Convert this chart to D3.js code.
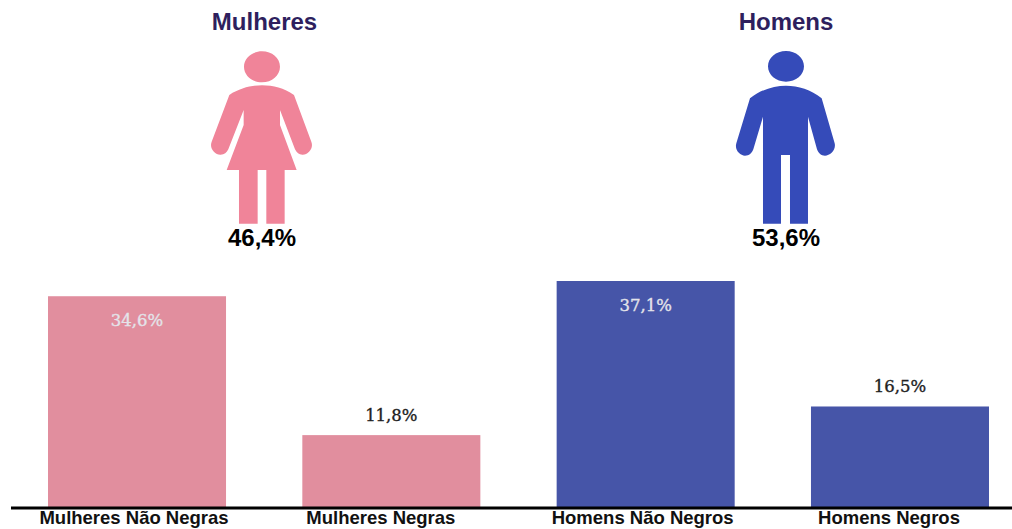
<!DOCTYPE html>
<html>
<head>
<meta charset="utf-8">
<script src="https://cdn.jsdelivr.net/npm/d3@7"></script>
<style>
	html, body { margin: 0; padding: 0; background: #fff; overflow: hidden; }
	svg { display: block; }
	text { font-family: "Liberation Sans", Arial, sans-serif; font-weight: bold; }
	.bar-label { font-family: "DejaVu Serif", serif; font-weight: normal; font-size: 16.5px; stroke-width: 0.35px; }
</style>
</head>
<body>
<div id="chart"></div>
<script>
// Bars
var categories = ["Mulheres Não Negras", "Mulheres Negras", "Homens Não Negros", "Homens Negros"];
var values = [34.6, 11.8, 37.1, 16.5];
var barColors = ["#e18e9e", "#e18e9e", "#4655a8", "#4655a8"];
// the axis labels sit a bit left of their bars in the original
var labelShift = [-3, -10.5, -3, -11];

// Pictograms on top
var groupNames = ["Mulheres", "Homens"];
var groupShares = ["46,4%", "53,6%"];
var groupColors = ["#f08499", "#354bb9"];
var groupCenters = [264.5, 786];

// Icon outlines, in a 450 wide local box (zoomed up 3x from the picture)
var womanIcon = "M216,154C246,154 270,174 270,200C270,226 246,247 216,247C186,247 162,226 162,200C162,174 186,154 216,154Z" +
	"M118,285C150,264 185,256 216,256C250,256 282,264 312,285L364,425C372,445 354,465 337,464C327,464 320,458 315,448L270,330L270,375L320,510L284,510L284,671L229,671L229,510L203,510L203,671L147,671L147,510L110,510L161,375L161,330L115,448C110,458 103,464 92,464C75,465 57,445 65,425Z";
var manIcon = "M213,153C243,153 267,173 267,199C267,225 243,245 213,245C183,245 159,225 159,199C159,173 183,153 213,153Z" +
	"M105,295C140,268 178,257 213,257C250,257 288,268 320,295L359,430C364,450 345,467 330,467C318,467 311,460 306,448L279,350L279,671L225,671L225,465L198,465L198,671L144,671L144,350L115,448C110,460 103,467 90,467C75,467 58,450 64,430Z";
var icons = [
	{ d: womanIcon, x: 190 },
	{ d: manIcon, x: 715 }
];

var width = 1012,
	height = 529,
	baseline = 507;

var svg = d3.select("#chart").append("svg")
	.attr("width", width)
	.attr("height", height);

// Scales
var x = d3.scaleBand()
	.domain(categories)
	.range([48, 989])
	.paddingInner(0.3)
	.paddingOuter(0);

var y = d3.scaleLinear()
	.domain([0, 37.1])
	.range([baseline, 281]);

// Bars
svg.selectAll(".bar")
	.data(values)
	.enter().append("rect")
	.attr("class", "bar")
	.attr("x", function(d, i) { return x(categories[i]); })
	.attr("y", function(d) { return y(d); })
	.attr("width", x.bandwidth())
	.attr("height", function(d) { return baseline - y(d); })
	.attr("fill", function(d, i) { return barColors[i]; });

// Value labels: inside the tall bars, above the short ones
svg.selectAll(".bar-label")
	.data(values)
	.enter().append("text")
	.attr("class", "bar-label")
	.attr("text-anchor", "middle")
	.attr("x", function(d, i) { return x(categories[i]) + x.bandwidth() / 2; })
	.attr("y", function(d) { return d > 30 ? y(d) + 30 : y(d) - 14; })
	.attr("fill", function(d) { return d > 30 ? "#e4e4ea" : "#222"; })
	.attr("stroke", function(d) { return d > 30 ? "#e4e4ea" : "#222"; })
	.text(function(d) { return String(d).replace(".", ",") + "%"; });

// Axis
var xAxis = d3.axisBottom().scale(x).tickSize(0).tickPadding(3);
var axisGroup = svg.append("g")
	.attr("class", "x-axis")
	.attr("transform", "translate(0," + (baseline + 1) + ")")
	.call(xAxis);

axisGroup.select(".domain").remove();
axisGroup.selectAll("text")
	.attr("font-size", null)
	.attr("dx", function(d, i) { return labelShift[i]; })
	.style("font-size", "18.5px")
	.style("font-family", "'Liberation Sans', Arial, sans-serif")
	.attr("fill", "#111");

svg.append("line")
	.attr("x1", 11)
	.attr("x2", width)
	.attr("y1", baseline + 1)
	.attr("y2", baseline + 1)
	.attr("stroke", "#000")
	.attr("stroke-width", 3);

// Pictograms
svg.selectAll(".icon")
	.data(icons)
	.enter().append("path")
	.attr("class", "icon")
	.attr("d", function(d) { return d.d; })
	.attr("transform", function(d) { return "translate(" + d.x + ",0) scale(0.3333)"; })
	.attr("fill", function(d, i) { return groupColors[i]; });

svg.selectAll(".group-title")
	.data(groupNames)
	.enter().append("text")
	.attr("class", "group-title")
	.attr("text-anchor", "middle")
	.attr("x", function(d, i) { return groupCenters[i]; })
	.attr("y", 30)
	.attr("fill", "#2e1f5e")
	.style("font-size", "24px")
	.text(function(d) { return d; });

svg.selectAll(".group-share")
	.data(groupShares)
	.enter().append("text")
	.attr("class", "group-share")
	.attr("text-anchor", "middle")
	.attr("x", function(d, i) { return groupCenters[i] - 2.5 + i * 2.5; })
	.attr("y", 246)
	.attr("fill", "#000")
	.style("font-size", "24px")
	.text(function(d) { return d; });
</script>
</body>
</html>
